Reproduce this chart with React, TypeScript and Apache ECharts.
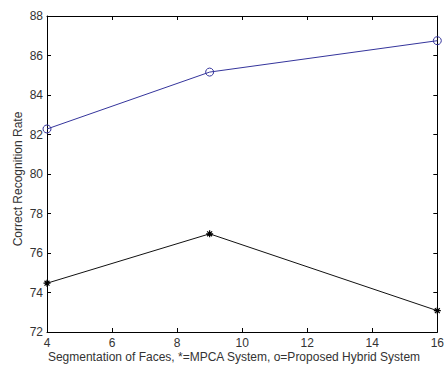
import React, { useEffect, useRef } from "react";
import * as echarts from "echarts";

const segments = [4, 9, 16];
const hybridRate = [82.28, 85.16, 86.75];
const mpcaRate = [74.47, 76.97, 73.08];
const xLabel = "Segmentation of Faces, *=MPCA System, o=Proposed Hybrid System";
const yLabel = "Correct Recognition Rate";

const FONT = "'Liberation Sans', Arial, Helvetica, sans-serif";
const ASTERISK = "path://M0 5 L10 5 M5 0 L5 10 M1.5 1.5 L8.5 8.5 M8.5 1.5 L1.5 8.5";

export default function App() {
  const ref = useRef<HTMLDivElement>(null);
  useEffect(() => {
    if (!ref.current) return;
    const chart = echarts.init(ref.current, null, { renderer: "svg" });
    const axisCommon = {
      axisLine: { show: true, onZero: false, lineStyle: { color: "#000", width: 1 } },
      axisTick: { show: true, inside: true, length: 4, lineStyle: { color: "#000" } },
      splitLine: { show: false },
    };
    chart.setOption({
      animation: false,
      backgroundColor: "#fff",
      grid: { left: 47, right: 2, top: 16, bottom: 33, containLabel: false },
      graphic: [
        {
          type: "text",
          x: 234,
          y: 357,
          style: {
            text: xLabel,
            fill: "#333",
            font: "12px " + FONT,
            textAlign: "center",
            textVerticalAlign: "middle",
          },
        },
        {
          type: "text",
          x: 17.5,
          y: 179,
          rotation: Math.PI / 2,
          style: {
            text: yLabel,
            fill: "#333",
            font: "12px " + FONT,
            textAlign: "center",
            textVerticalAlign: "middle",
          },
        },
      ],
      xAxis: [
        {
          type: "value",
          min: 4,
          max: 16,
          interval: 2,
          position: "bottom",
          ...axisCommon,
          axisLabel: { color: "#333", fontFamily: FONT, fontSize: 12, margin: 5 },
        },
        {
          type: "value",
          min: 4,
          max: 16,
          interval: 2,
          position: "top",
          ...axisCommon,
          axisLabel: { show: false },
        },
      ],
      yAxis: [
        {
          type: "value",
          min: 72,
          max: 88,
          interval: 2,
          position: "left",
          ...axisCommon,
          axisLabel: { color: "#333", fontFamily: FONT, fontSize: 12, margin: 4 },
        },
        {
          type: "value",
          min: 72,
          max: 88,
          interval: 2,
          position: "right",
          ...axisCommon,
          axisLabel: { show: false },
        },
      ],
      series: [
        {
          type: "line",
          data: segments.map((s, i) => [s, hybridRate[i]]),
          symbol: "circle",
          symbolSize: 8,
          showAllSymbol: true,
          lineStyle: { color: "#35359c", width: 1 },
          itemStyle: { color: "none", borderColor: "#35359c", borderWidth: 1 },
          clip: false,
        },
        {
          type: "line",
          data: segments.map((s, i) => [s, mpcaRate[i]]),
          symbol: ASTERISK,
          symbolSize: 7,
          showAllSymbol: true,
          lineStyle: { color: "#111", width: 1 },
          itemStyle: { color: "none", borderColor: "#000", borderWidth: 1.2 },
          clip: false,
        },
      ],
    });
    return () => chart.dispose();
  }, []);
  return (
    <div
      ref={ref}
      style={{ position: "absolute", left: 0, top: 0, width: 447, height: 365, background: "#fff" }}
    />
  );
}
